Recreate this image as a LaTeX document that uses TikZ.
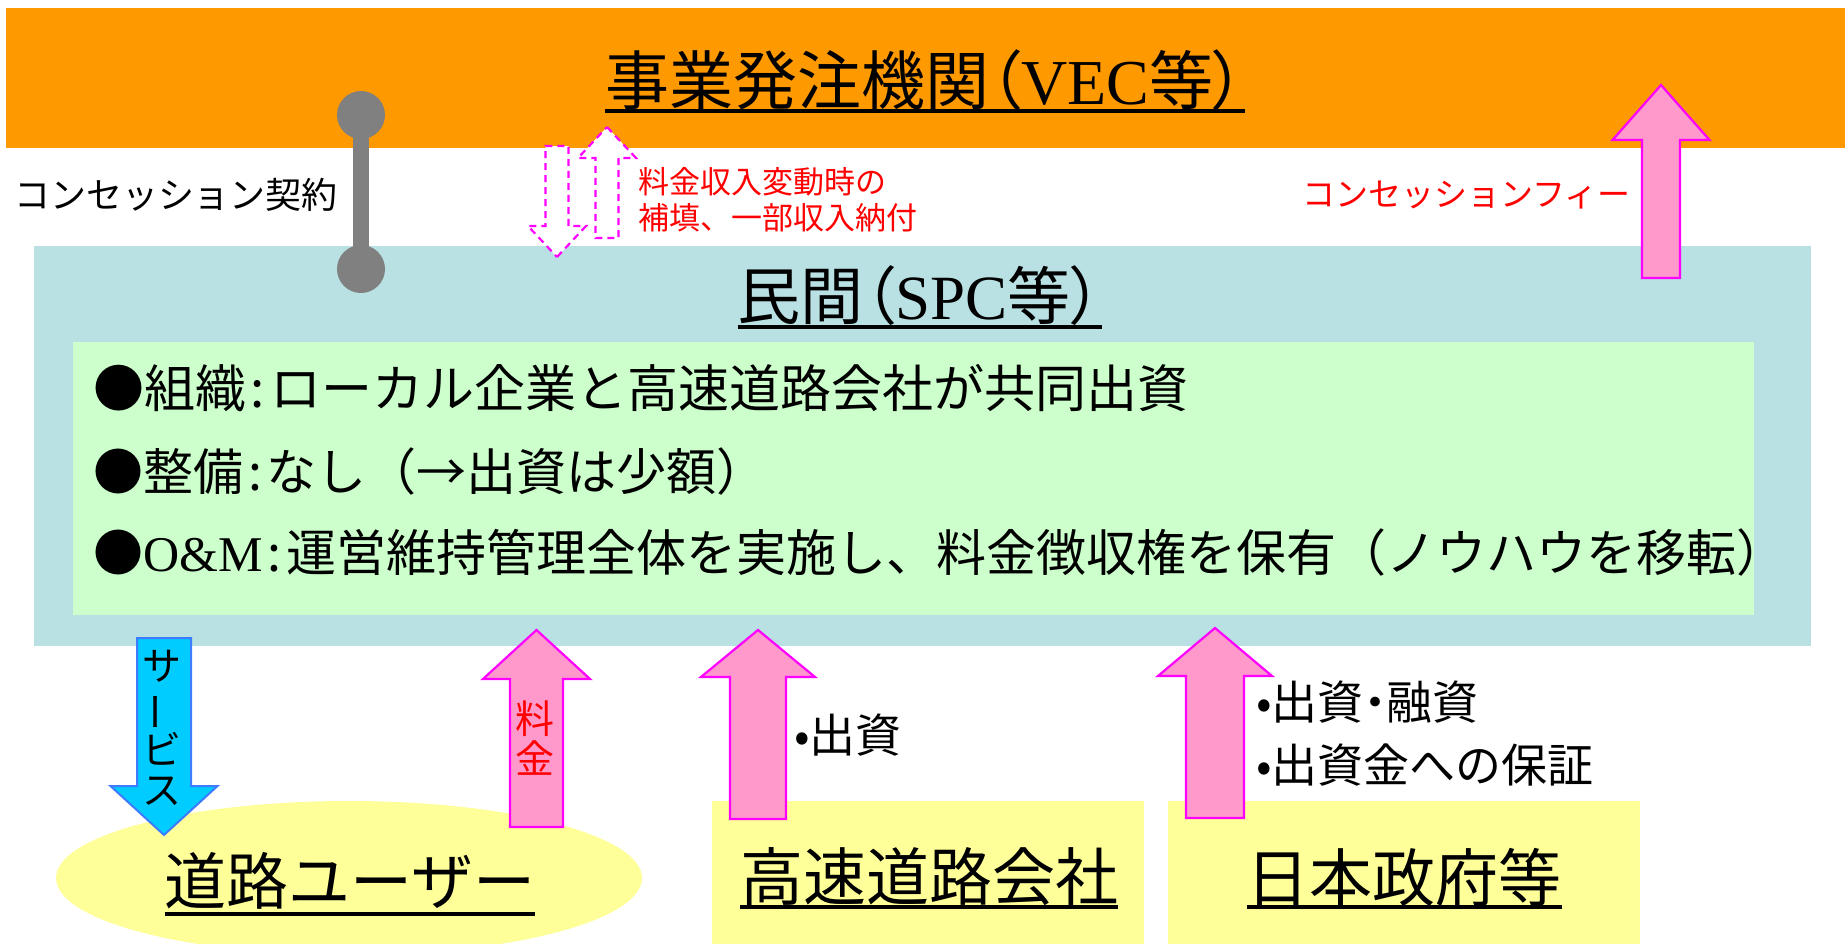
\documentclass[tikz,border=0pt]{standalone}
\usepackage{fontspec}
\usepackage{graphicx}
\usetikzlibrary{shapes.geometric}
\setmainfont{Noto Sans CJK JP}
\newfontfamily\jpp[RawFeature=+palt]{Noto Sans CJK JP}
\newfontfamily\ser{Liberation Serif}
\definecolor{orangeband}{HTML}{FF9900}
\definecolor{spcblue}{HTML}{B9E0E3}
\definecolor{spcgreen}{HTML}{CCFFCC}
\definecolor{partyyellow}{HTML}{FFFF99}
\definecolor{pinkfill}{HTML}{FF99CC}
\definecolor{pinkline}{HTML}{FF00FF}
\definecolor{svcfill}{HTML}{00CCFF}
\definecolor{svcline}{HTML}{3D7BFF}
\definecolor{linkgray}{HTML}{808080}
\newcommand{\setfs}[1]{\fontsize{#1}{#1}\selectfont}
\newcommand{\gcolon}{\hspace{5pt}:\hspace{5pt}}
\newcommand{\blkarrow}[7]{%
  \draw[#1] (#2,#3) -- ({#2+#5},#4) -- ({#2+#6},#4) -- ({#2+#6},#7)
    -- ({#2-#6},#7) -- ({#2-#6},#4) -- ({#2-#5},#4) -- cycle;}
\begin{document}
\begin{tikzpicture}[x=1pt,y=-1pt,
  boxnode/.style={inner sep=0pt, outer sep=0pt, draw=none, anchor=north west},
  txt/.style={inner sep=0pt, outer sep=0pt},
  uline/.style={line width=4pt, black},
  pinkarrow/.style={fill=pinkfill, draw=pinkline, line width=2.2pt, line join=miter},
  dasharrow/.style={fill=white, draw=pinkline, line width=2.2pt, dash pattern=on 7pt off 5pt},
  svcarrow/.style={fill=svcfill, draw=svcline, line width=2pt, line join=miter},
  knob/.style={circle, fill=linkgray, minimum size=48pt, inner sep=0pt}]
\useasboundingbox (0,0) rectangle (1845,943);
\clip (0,0) rectangle (1845,943);
\fill[white] (0,0) rectangle (1845,943);
% backgrounds
\node[boxnode, fill=orangeband, minimum width=1839pt, minimum height=140pt] (vec) at (6,8) {};
\node[boxnode, fill=spcblue, minimum width=1777pt, minimum height=400pt] (spc) at (34,246) {};
\node[boxnode, fill=spcgreen, minimum width=1681pt, minimum height=273pt] (ops) at (73,342) {};
\node[ellipse, fill=partyyellow, inner sep=0pt, minimum width=586pt, minimum height=154pt] (user) at (349,878) {};
\node[boxnode, fill=partyyellow, minimum width=432pt, minimum height=150pt] (nexco) at (712,801) {};
\node[boxnode, fill=partyyellow, minimum width=472pt, minimum height=150pt] (gov) at (1168,801) {};
% titles
\coordinate (u1) at (0,111);
\coordinate (u2) at (0,327);
\coordinate (u3) at (0,914);
\coordinate (u4) at (0,907);
\node[txt, font=\setfs{64}\jpp] (ttl) at (925,80) {事業発注機関（{\ser VEC}等）};
\draw[uline] (ttl.west |- u1) -- (ttl.east |- u1);
\node[txt, font=\setfs{63}\jpp] (spct) at (920,296) {民間（{\ser SPC}等）};
\draw[uline] (spct.west |- u2) -- (spct.east |- u2);
% green box lines
\node[txt, anchor=west, font=\setfs{51}] (l1) at (93,388) {●組織\gcolon ローカル企業と高速道路会社が共同出資};
\node[txt, anchor=west, font=\setfs{50}] (l2) at (93,471) {●整備\gcolon なし（→出資は少額）};
\node[txt, anchor=west, font=\setfs{50}] (l3) at (93,552) {●{\ser O\&M}\gcolon 運営維持管理全体を実施し、料金徴収権を保有（ノウハウを移転）};
% bottom parties
\node[txt, font=\setfs{62}] (usert) at (350,881) {道路ユーザー};
\draw[uline] (usert.west |- u3) -- (usert.east |- u3);
\node[txt, font=\setfs{63}] (nexcot) at (929,877) {高速道路会社};
\draw[uline] (nexcot.west |- u4) -- (nexcot.east |- u4);
\node[txt, font=\setfs{63}] (govt) at (1404,877) {日本政府等};
\draw[uline] (govt.west |- u4) -- (govt.east |- u4);
% side labels
\node[txt, anchor=west, font=\setfs{36}] (conlbl) at (14,195) {コンセッション契約};
\node[txt, anchor=west, font=\setfs{33}, text=red] (feelbl) at (1302,195) {コンセッションフィー};
\node[txt, anchor=west, font=\setfs{31}, text=red] (comp1) at (638,182) {料金収入変動時の};
\node[txt, anchor=west, font=\setfs{31}, text=red] (comp2) at (638,218) {補填、一部収入納付};
\node[txt, anchor=west, font=\setfs{46}] (inv1) at (794,735) {•出資};
\node[txt, anchor=west, font=\setfs{46}] (inv2) at (1256,702) {•出資{\jpp ・}融資};
\node[txt, anchor=west, font=\setfs{46}] (inv3) at (1256,765) {•出資金への保証};
% arrows
\blkarrow{pinkarrow}{1661}{85}{140}{48.5}{19}{278}
\blkarrow{dasharrow}{557}{257}{226}{29}{11.5}{146}
\blkarrow{dasharrow}{607}{127}{158}{29}{11.5}{238}
\blkarrow{svcarrow}{164}{835}{786}{53.5}{27}{638}
\blkarrow{pinkarrow}{536.5}{630}{679}{53.5}{26.5}{827}
\blkarrow{pinkarrow}{758}{630}{677}{57}{28}{819}
\blkarrow{pinkarrow}{1215}{628}{676}{57}{29}{818}
% vertical texts in arrows
\node[txt, align=center, font=\fontsize{39}{40}\selectfont] (svct) at (162,728) {サ\\\rotatebox[origin=c]{90}{ー}\\ビ\\ス};
\node[txt, align=center, font=\fontsize{39}{40}\selectfont, text=red] (feet) at (535,738) {料\\金};
% concession contract link
\node[knob] (k1) at (361,115) {};
\node[knob] (k2) at (361,269) {};
\draw[line width=16pt, linkgray] (k1.center) -- (k2.center);
\end{tikzpicture}
\end{document}
